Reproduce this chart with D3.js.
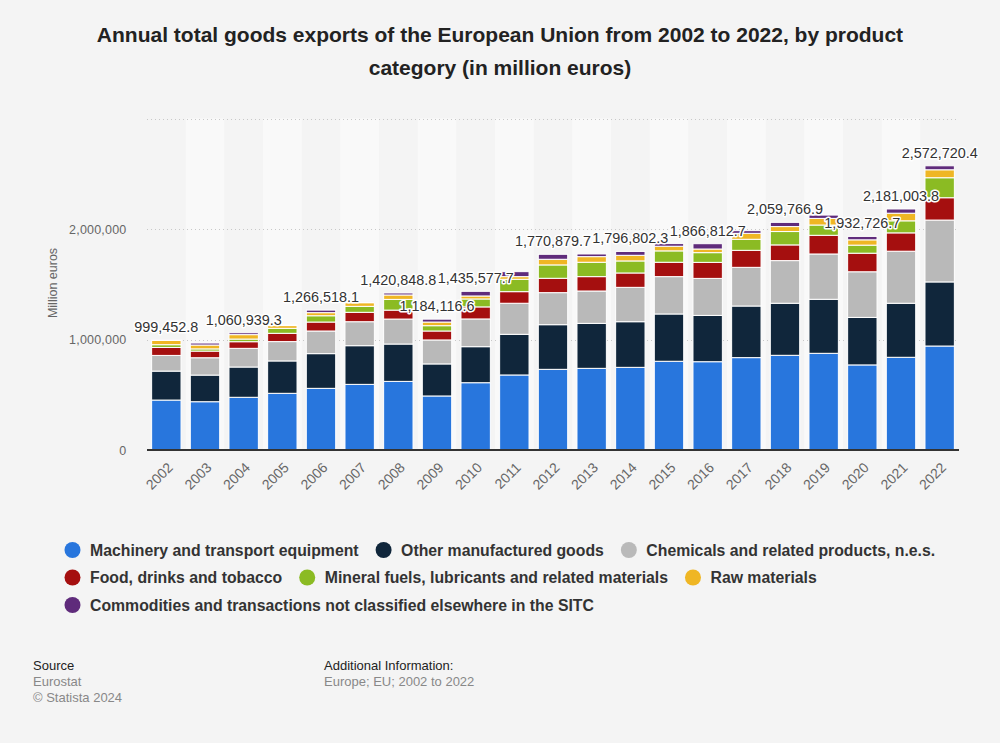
<!DOCTYPE html>
<html>
<head>
<meta charset="utf-8">
<script src="https://cdn.jsdelivr.net/npm/d3@7"></script>
<style>
  html, body { margin: 0; padding: 0; background: #f4f4f4; }
  svg { display: block; font-family: "Liberation Sans", Arial, Helvetica, sans-serif; }
</style>
</head>
<body>
<svg id="chart" width="1000" height="743"></svg>
<script>
// ---------- data (million euros) ----------
const years = ["2002","2003","2004","2005","2006","2007","2008","2009","2010","2011","2012",
               "2013","2014","2015","2016","2017","2018","2019","2020","2021","2022"];
const seriesNames = [
  "Machinery and transport equipment",
  "Other manufactured goods",
  "Chemicals and related products, n.e.s.",
  "Food, drinks and tobacco",
  "Mineral fuels, lubricants and related materials",
  "Raw materials",
  "Commodities and transactions not classified elsewhere in the SITC"
];
const machinery   = [452000,437000,477000,513000,558000,594000,621000,489000,609000,679000,730000,739000,748000,803000,799000,836000,857000,875000,770000,839000,941000];
const otherManuf  = [262000,241000,274000,293000,314000,350000,338000,290000,326000,368000,404000,407000,413000,428000,419000,467000,471000,489000,430000,489000,580000];
const chemicals   = [142000,157000,169000,175000,205000,217000,226000,217000,251000,281000,290000,293000,311000,338000,335000,350000,386000,410000,413000,471000,560000];
const food        = [72000,60000,60000,75000,81000,85000,81000,81000,109000,105000,130000,130000,130000,130000,145000,154000,142000,169000,168000,166000,202000];
const fuels       = [25000,20000,24000,45000,57000,54000,97000,48000,72000,112000,121000,130000,109000,103000,88000,100000,121000,93000,73000,109000,181000];
const rawMat      = [38000,35000,40000,25000,28000,33000,40000,33000,27000,24000,51000,51000,51000,42000,33000,54000,45000,60000,48000,69000,72000];
const commodities = [8000,18000,17000,5000,23000,7000,18000,26000,42000,45000,45000,24000,35000,24000,48000,24000,38000,30000,31000,38000,36000];
// totals shown as labels (null = label hidden in the original)
const totalLabels = [999452.8,null,1060939.3,null,1266518.1,null,1420848.8,1184116.6,1435577.7,null,1770879.7,
                     null,1796802.3,null,1866812.7,null,2059766.9,null,1932726.7,2181003.8,2572720.4];
const yTicks = [0, 1000000, 2000000];
const gridTicks = [1000000, 2000000, 3000000];
const colors = ["#2876dd","#10263b","#b9b9b9","#a50f0f","#8bbb23","#efb624","#5f2b7b"];

const seriesValues = [machinery, otherManuf, chemicals, food, fuels, rawMat, commodities];
const table = years.map((yr, i) => {
  const row = { year: yr };
  seriesNames.forEach((k, s) => row[k] = seriesValues[s][i]);
  return row;
});

// ---------- layout ----------
const svg = d3.select("#chart");
const plotLeft = 147, plotRight = 959, plotTop = 118.5, plotBottom = 450;

svg.append("rect").attr("width", 1000).attr("height", 743).attr("fill", "#f4f4f4");

const x = d3.scaleBand().domain(years).range([plotLeft, plotRight]).paddingInner(0.24).paddingOuter(0.12);
const y = d3.scaleLinear().domain([0, 3000000]).range([plotBottom, plotTop]);
const step = x.step();

// alternating column bands
svg.append("g").selectAll("rect").data(years.filter((d, i) => i % 2 === 1)).join("rect")
  .attr("x", d => x(d) - step * 0.12)
  .attr("width", step)
  .attr("y", plotTop)
  .attr("height", plotBottom - plotTop)
  .attr("fill", "#f9f9f9");

// gridlines
svg.append("g").selectAll("line").data(gridTicks).join("line")
  .attr("x1", plotLeft).attr("x2", plotRight)
  .attr("y1", d => Math.round(y(d)) + 0.5).attr("y2", d => Math.round(y(d)) + 0.5)
  .attr("stroke", "#c8c8c8").attr("stroke-width", 1).attr("stroke-dasharray", "1,3");

// title
const title = svg.append("text").attr("x", 500).attr("text-anchor", "middle")
  .attr("font-size", 21).attr("font-weight", "bold").attr("fill", "#222");
title.append("tspan").attr("x", 500).attr("y", 42)
  .text("Annual total goods exports of the European Union from 2002 to 2022, by product");
title.append("tspan").attr("x", 500).attr("y", 75).text("category (in million euros)");

// y axis labels
const yAxis = d3.axisLeft(y).tickValues(yTicks).tickSize(0).tickPadding(0).tickFormat(d3.format(","));
const yg = svg.append("g").attr("transform", "translate(126.5,0)").call(yAxis);
yg.select(".domain").remove();
yg.selectAll("text").attr("font-size", 12.5).attr("fill", "#666")
  .attr("font-family", "Liberation Sans, Arial, sans-serif").attr("letter-spacing", 0.2);

svg.append("text").attr("transform", "translate(57,283) rotate(-90)")
  .attr("text-anchor", "middle").attr("font-size", 12.5).attr("fill", "#666")
  .text("Million euros");

// stacked bars
const stack = d3.stack().keys(seriesNames)(table);
const layers = svg.append("g").selectAll("g").data(stack).join("g")
  .attr("fill", (d, i) => colors[i]);
layers.selectAll("rect").data(d => d).join("rect")
  .attr("x", d => x(d.data.year))
  .attr("width", x.bandwidth())
  .attr("y", d => y(d[1]))
  .attr("height", d => Math.max(0, y(d[0]) - y(d[1])))
  .attr("stroke", "#ffffff").attr("stroke-width", 1);

// x axis
const xAxis = d3.axisBottom(x).tickSize(0).tickPadding(0);
const xg = svg.append("g").attr("transform", `translate(0,${plotBottom})`).call(xAxis);
xg.select(".domain").attr("stroke", "#333").attr("stroke-width", 2)
  .attr("d", `M${plotLeft},0H${plotRight}`);
xg.selectAll(".tick text")
  .attr("font-size", 14).attr("fill", "#666")
  .attr("font-family", "Liberation Sans, Arial, sans-serif")
  .attr("text-anchor", "end")
  .attr("transform", "translate(4,15) rotate(-45)")
  .attr("dy", "0.35em").attr("y", 0).attr("x", 0);

// total labels
const totals = years.map((yr, i) => d3.sum(seriesValues, s => s[i]));
const fmt = d3.format(",.1f");
svg.append("g").selectAll("text").data(years.map((yr, i) => ({ yr, label: totalLabels[i], total: totals[i] }))
    .filter(d => d.label !== null))
  .join("text")
  .attr("x", d => x(d.yr) + x.bandwidth() / 2)
  .attr("y", d => y(d.total) - 8)
  .attr("text-anchor", "middle")
  .attr("font-size", 14.4).attr("fill", "#333")
  .attr("stroke", "#ffffff").attr("stroke-width", 3).attr("paint-order", "stroke")
  .attr("stroke-linejoin", "round")
  .text(d => fmt(d.label));

// legend
const legend = svg.append("g");
const legendX0 = 72.5;
let lx = legendX0, ly = 550;
const maxX = 965;
seriesNames.forEach((name, i) => {
  const g = legend.append("g");
  const t = g.append("text").attr("x", 17.5).attr("y", 0).attr("dy", "0.35em")
    .attr("font-size", 15.8).attr("font-weight", "bold").attr("fill", "#333").text(name);
  const w = t.node().getComputedTextLength();
  if (lx + 17.5 + w > maxX) { lx = legendX0; ly += 27.5; }
  g.attr("transform", `translate(${lx},${ly})`);
  g.insert("circle", "text").attr("cx", 0).attr("cy", 0).attr("r", 8).attr("fill", colors[i]);
  lx += 17.5 + w + 25;
});

// footer
const foot = svg.append("g").attr("font-size", 13);
foot.append("text").attr("x", 33).attr("y", 670).attr("fill", "#222").text("Source");
foot.append("text").attr("x", 33).attr("y", 686).attr("fill", "#888").text("Eurostat");
foot.append("text").attr("x", 33).attr("y", 702).attr("fill", "#888").text("© Statista 2024");
foot.append("text").attr("x", 324).attr("y", 670).attr("fill", "#222").text("Additional Information:");
foot.append("text").attr("x", 324).attr("y", 686).attr("fill", "#888").text("Europe; EU; 2002 to 2022");
</script>
</body>
</html>
